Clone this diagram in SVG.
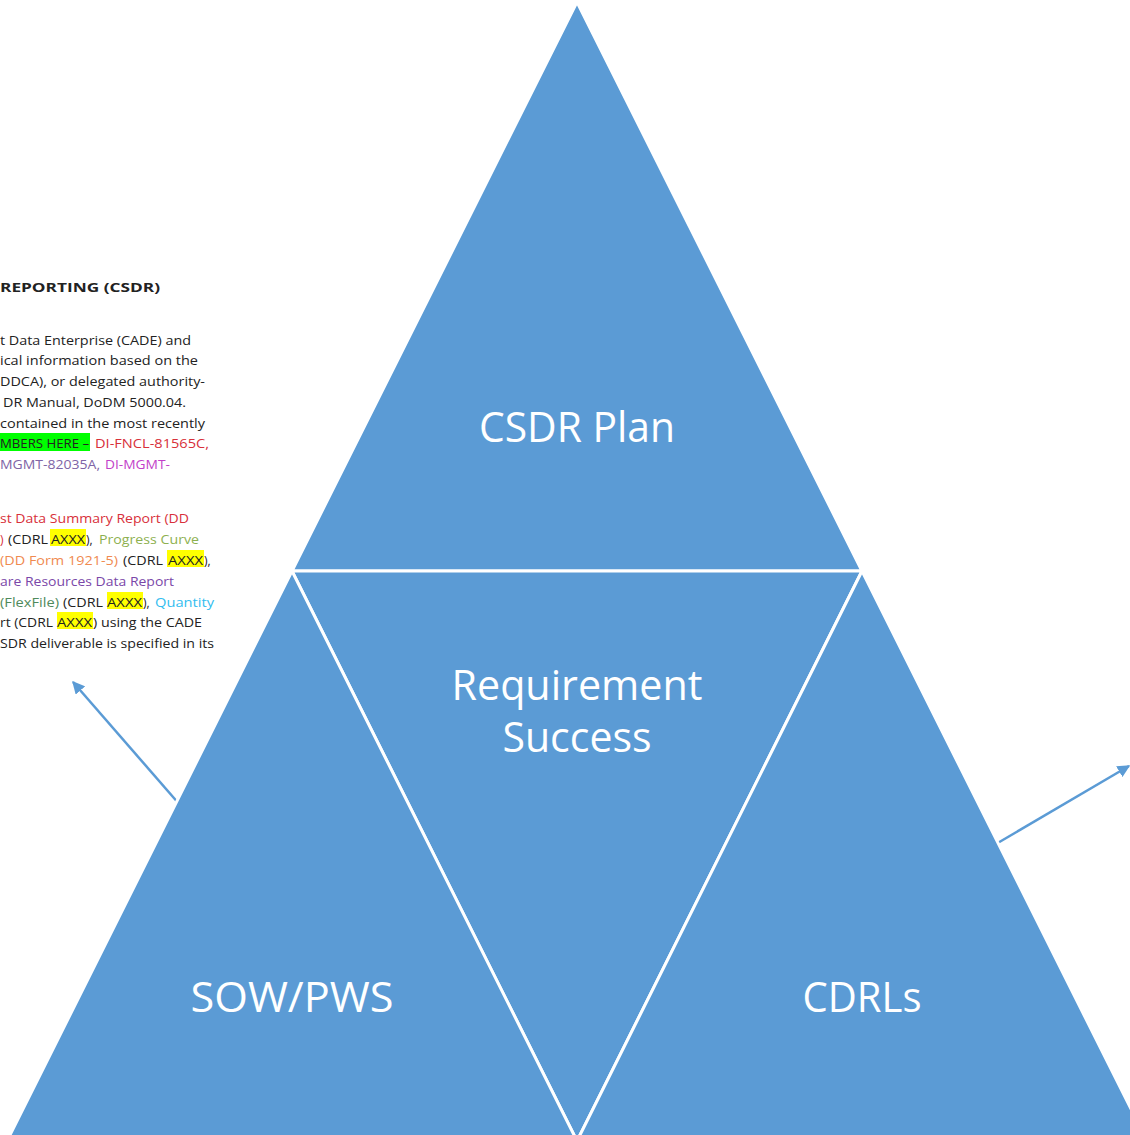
<svg xmlns="http://www.w3.org/2000/svg" width="1130" height="1135" viewBox="0 0 1130 1135">
<defs>
<style>
.tri{fill:#5B9BD5;stroke:#FFFFFF;stroke-width:3;stroke-linejoin:miter}
.lbl{fill:#FFFFFF;font-family:"Open Sans","Liberation Sans",sans-serif;font-size:42px;text-anchor:middle}
.doc{font-family:"Open Sans","Liberation Sans",sans-serif;font-size:12px;fill:#222222}
.red{fill:#D8303A}
.grn{fill:#8DB04F}
.org{fill:#F08A50}
.pur{fill:#7A47A8}
.dgn{fill:#4F8A5B}
.cyn{fill:#33BDEF}
.mgv{fill:#7E64A6}
.mag{fill:#C23FC9}
.hl-y{fill:#FFFF00}
.hl-g{fill:#00FF00}
.conn{stroke:#5B9BD5;stroke-width:2.5;fill:none;marker-end:url(#ah)}
</style>
<marker id="ah" viewBox="0 0 10 10" refX="9" refY="5" markerWidth="5" markerHeight="5" orient="auto" markerUnits="strokeWidth">
<path d="M0,0 L10,5 L0,10 z" fill="#5B9BD5"/>
</marker>
</defs>
<rect width="1130" height="1135" fill="#FFFFFF"/>

<g id="document-excerpt">
<rect class="hl-g" x="0" y="433" width="90" height="18"/>
<rect class="hl-y" x="50" y="529" width="36" height="17"/>
<rect class="hl-y" x="167" y="550" width="37" height="17"/>
<rect class="hl-y" x="107" y="592" width="36" height="17"/>
<rect class="hl-y" x="57" y="612" width="36" height="17"/>
<text class="doc" x="0" y="292" font-weight="bold" style="font-size:13px" textLength="160" lengthAdjust="spacingAndGlyphs">REPORTING (CSDR)</text>
<text class="doc" x="0" y="345" textLength="191" lengthAdjust="spacingAndGlyphs">t Data Enterprise (CADE) and</text>
<text class="doc" x="0" y="365" textLength="198" lengthAdjust="spacingAndGlyphs">ical information based on the</text>
<text class="doc" x="0" y="386" textLength="205" lengthAdjust="spacingAndGlyphs">DDCA), or delegated authority-</text>
<text class="doc" x="3" y="407" textLength="183" lengthAdjust="spacingAndGlyphs">DR Manual, DoDM 5000.04.</text>
<text class="doc" x="0" y="428" textLength="205" lengthAdjust="spacingAndGlyphs">contained in the most recently</text>
<text class="doc" x="0" y="448" textLength="89" lengthAdjust="spacingAndGlyphs">MBERS HERE –</text>
<text class="doc red" x="95" y="448" textLength="114" lengthAdjust="spacingAndGlyphs">DI-FNCL-81565C,</text>
<text class="doc mgv" x="0" y="469" textLength="100" lengthAdjust="spacingAndGlyphs">MGMT-82035A,</text>
<text class="doc mag" x="105" y="469" textLength="65" lengthAdjust="spacingAndGlyphs">DI-MGMT-</text>
<text class="doc red" x="0" y="523" textLength="189" lengthAdjust="spacingAndGlyphs">st Data Summary Report (DD</text>
<text class="doc red" x="0" y="544">)</text>
<text class="doc" x="8" y="544" textLength="40" lengthAdjust="spacingAndGlyphs">(CDRL</text>
<text class="doc" x="51" y="544" textLength="34" lengthAdjust="spacingAndGlyphs">AXXX</text>
<text class="doc" x="86" y="544">),</text>
<text class="doc grn" x="99" y="544" textLength="100" lengthAdjust="spacingAndGlyphs">Progress Curve</text>
<text class="doc org" x="0" y="565" textLength="118" lengthAdjust="spacingAndGlyphs">(DD Form 1921-5)</text>
<text class="doc" x="123" y="565" textLength="40" lengthAdjust="spacingAndGlyphs">(CDRL</text>
<text class="doc" x="168" y="565" textLength="35" lengthAdjust="spacingAndGlyphs">AXXX</text>
<text class="doc" x="204" y="565">),</text>
<text class="doc pur" x="0" y="586" textLength="174" lengthAdjust="spacingAndGlyphs">are Resources Data Report</text>
<text class="doc dgn" x="0" y="607" textLength="59" lengthAdjust="spacingAndGlyphs">(FlexFile)</text>
<text class="doc" x="63" y="607" textLength="40" lengthAdjust="spacingAndGlyphs">(CDRL</text>
<text class="doc" x="107" y="607" textLength="35" lengthAdjust="spacingAndGlyphs">AXXX</text>
<text class="doc" x="143" y="607">),</text>
<text class="doc cyn" x="155" y="607" textLength="59" lengthAdjust="spacingAndGlyphs">Quantity</text>
<text class="doc" x="0" y="627" textLength="53" lengthAdjust="spacingAndGlyphs">rt (CDRL</text>
<text class="doc" x="57" y="627" textLength="35" lengthAdjust="spacingAndGlyphs">AXXX</text>
<text class="doc" x="93" y="627" textLength="109" lengthAdjust="spacingAndGlyphs">) using the CADE</text>
<text class="doc" x="0" y="648" textLength="214" lengthAdjust="spacingAndGlyphs">SDR deliverable is specified in its</text>
</g>

<g id="connectors">
<line class="conn" x1="180" y1="805" x2="73" y2="682"/>
<line class="conn" x1="996" y1="844" x2="1129" y2="766"/>
</g>

<g id="csdr-plan">
<polygon class="tri" points="577,2 292,571 862,571"/>
<text class="lbl" x="577" y="442" textLength="196" lengthAdjust="spacingAndGlyphs">CSDR Plan</text>
</g>
<g id="requirement-success">
<polygon class="tri" points="292,571 862,571 577,1141"/>
<text class="lbl" x="577" y="700" textLength="251" lengthAdjust="spacingAndGlyphs">Requirement</text>
<text class="lbl" x="577" y="752" textLength="149" lengthAdjust="spacingAndGlyphs">Success</text>
</g>
<g id="sow-pws">
<polygon class="tri" points="292,571 7,1141 577,1141"/>
<text class="lbl" x="292" y="1012" textLength="203" lengthAdjust="spacingAndGlyphs">SOW/PWS</text>
</g>
<g id="cdrls">
<polygon class="tri" points="862,571 577,1141 1147,1141"/>
<text class="lbl" x="862" y="1012" textLength="119" lengthAdjust="spacingAndGlyphs">CDRLs</text>
</g>
</svg>
